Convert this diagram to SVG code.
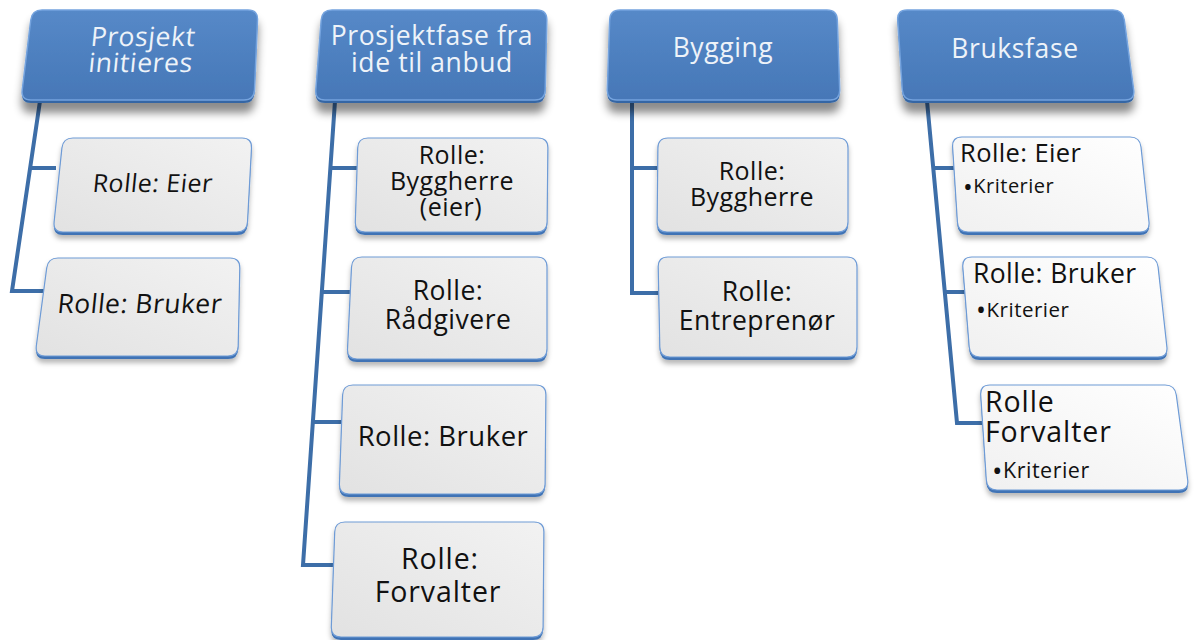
<svg xmlns="http://www.w3.org/2000/svg" width="1196" height="640" viewBox="0 0 1196 640">
  <defs>
    <linearGradient id="hdrFill" x1="0" y1="0" x2="0" y2="1">
      <stop offset="0" stop-color="#5689c8"/>
      <stop offset="1" stop-color="#4677b7"/>
    </linearGradient>
    <linearGradient id="boxFill" x1="0" y1="1" x2="1" y2="0">
      <stop offset="0" stop-color="#e2e2e2"/>
      <stop offset="1" stop-color="#f2f2f2"/>
    </linearGradient>
    <linearGradient id="boxFillLight" x1="0" y1="1" x2="1" y2="0">
      <stop offset="0" stop-color="#f0f0f0"/>
      <stop offset="1" stop-color="#ffffff"/>
    </linearGradient>
    <filter id="hdrShadow" x="-10%" y="-10%" width="120%" height="150%">
      <feDropShadow dx="0" dy="10" stdDeviation="4" flood-color="#000" flood-opacity="0.45"/>
    </filter>
    <filter id="boxShadow" x="-10%" y="-10%" width="120%" height="130%">
      <feDropShadow dx="0" dy="4" stdDeviation="2.5" flood-color="#000" flood-opacity="0.28"/>
    </filter>
  </defs>
  <style>
    .hdr-base { fill: #3566a4; }
    .hdr { fill: url(#hdrFill); stroke: #74a3de; stroke-width: 1.5; }
    .box-base { fill: #3f73b5; }
    .box { fill: url(#boxFill); stroke: #6e9bd6; stroke-width: 1.2; }
    .box-light { fill: url(#boxFillLight); stroke: #6e9bd6; stroke-width: 1.2; }
    .conn { fill: none; stroke: #3d6ea8; stroke-width: 4; stroke-linejoin: miter; }
    text { font-family: "Open Sans", "Noto Sans", sans-serif; }
    .ht { font-size: 26.5px; fill: #eef3f9; text-anchor: middle; letter-spacing: 0.6px; }
    .ct { font-size: 25px; fill: #111; text-anchor: middle; letter-spacing: 0.5px; }
    .lt { font-size: 25.5px; fill: #111; letter-spacing: 0.4px; }
    .bt { font-size: 20px; fill: #111; letter-spacing: 0.5px; }
    .bullet { font-size: 1.3em; }
    .s26 { font-size: 26.5px; }
    .s27 { font-size: 27.5px; }
    .s28 { font-size: 28.5px; letter-spacing: 0.9px; }
  </style>

  <!-- connectors -->
  <g id="connectors">
    <path class="conn" d="M40,101 L12,291 L44,291"/>
    <path class="conn" d="M30,168 L56,168"/>
    <path class="conn" d="M335,101 L303,565 L334,565"/>
    <path class="conn" d="M330,168 L358,168"/>
    <path class="conn" d="M322,292 L352,292"/>
    <path class="conn" d="M313,422 L343,422"/>
    <path class="conn" d="M632,101 L632,293 L660,293"/>
    <path class="conn" d="M632,168 L658,168"/>
    <path class="conn" d="M927,101 L957,423 L983,423"/>
    <path class="conn" d="M933,168 L955,168"/>
    <path class="conn" d="M945,292 L966,292"/>
  </g>

  <!-- column 1 -->
  <g id="hdr-prosjekt-initieres">
    <g filter="url(#hdrShadow)">
      <path class="hdr-base" transform="translate(0,3)" d="M42,10 L248,10 Q258,10 257.5,20 L254.5,90 Q254,100 244,100 L31,100 Q21,100 22.2,90 L30.8,20 Q32,10 42,10 Z"/>
      <path class="hdr" d="M42,10 L248,10 Q258,10 257.5,20 L254.5,90 Q254,100 244,100 L31,100 Q21,100 22.2,90 L30.8,20 Q32,10 42,10 Z"/>
    </g>
    <g transform="matrix(1,0,-0.1,1,6,0)">
      <text class="ht" x="141" y="46">Prosjekt</text>
      <text class="ht" x="141" y="72">initieres</text>
    </g>
  </g>
  <g id="c1-eier">
    <g filter="url(#boxShadow)">
      <path class="box-base" transform="translate(0,3)" d="M73,138 L242,138 Q252,138 251.5,148 L247.5,222 Q247,232 237,232 L63,232 Q53,232 54.1,222 L61.9,148 Q63,138 73,138 Z"/>
      <path class="box" d="M73,138 L242,138 Q252,138 251.5,148 L247.5,222 Q247,232 237,232 L63,232 Q53,232 54.1,222 L61.9,148 Q63,138 73,138 Z"/>
    </g>
    <g transform="matrix(1,0,-0.1,1,19.2,0)">
      <text class="ct" x="152" y="192">Rolle: Eier</text>
    </g>
  </g>
  <g id="c1-bruker">
    <g filter="url(#boxShadow)">
      <path class="box-base" transform="translate(0,3)" d="M58,258 L230,258 Q240,258 239.8,268 L238.2,346 Q238,356 228,356 L45,356 Q35,356 36.3,346 L46.7,268 Q48,258 58,258 Z"/>
      <path class="box" d="M58,258 L230,258 Q240,258 239.8,268 L238.2,346 Q238,356 228,356 L45,356 Q35,356 36.3,346 L46.7,268 Q48,258 58,258 Z"/>
    </g>
    <g transform="matrix(1,0,-0.1,1,31.3,0)">
      <text class="ct s26" x="139" y="313">Rolle: Bruker</text>
    </g>
  </g>

  <!-- column 2 -->
  <g id="hdr-prosjektfase">
    <g filter="url(#hdrShadow)">
      <path class="hdr-base" transform="translate(0,3)" d="M332,10 L537,10 Q547,10 546.8,20 L545.2,90 Q545,100 535,100 L325,100 Q315,100 315.8,90 L321.2,20 Q322,10 332,10 Z"/>
      <path class="hdr" d="M332,10 L537,10 Q547,10 546.8,20 L545.2,90 Q545,100 535,100 L325,100 Q315,100 315.8,90 L321.2,20 Q322,10 332,10 Z"/>
    </g>
    <text class="ht" x="432" y="45">Prosjektfase fra</text>
    <text class="ht" x="432" y="72">ide til anbud</text>
  </g>
  <g id="c2-byggherre">
    <g filter="url(#boxShadow)">
      <path class="box-base" transform="translate(0,3)" d="M368,138 L538,138 Q548,138 547.9,148 L547.1,222 Q547,232 537,232 L365,232 Q355,232 355.3,222 L357.7,148 Q358,138 368,138 Z"/>
      <path class="box" d="M368,138 L538,138 Q548,138 547.9,148 L547.1,222 Q547,232 537,232 L365,232 Q355,232 355.3,222 L357.7,148 Q358,138 368,138 Z"/>
    </g>
    <text class="ct" x="452" y="164">Rolle:</text>
    <text class="ct" x="452" y="190">Byggherre</text>
    <text class="ct" x="451" y="216">(eier)</text>
  </g>
  <g id="c2-radgivere">
    <g filter="url(#boxShadow)">
      <path class="box-base" transform="translate(0,3)" d="M362,257 L537,257 Q547,257 547,267 L547,349 Q547,359 537,359 L357,359 Q347,359 347.5,349 L351.5,267 Q352,257 362,257 Z"/>
      <path class="box" d="M362,257 L537,257 Q547,257 547,267 L547,349 Q547,359 537,359 L357,359 Q347,359 347.5,349 L351.5,267 Q352,257 362,257 Z"/>
    </g>
    <text class="ct s26" x="448" y="300">Rolle:</text>
    <text class="ct s26" x="448" y="329">Rådgivere</text>
  </g>
  <g id="c2-bruker">
    <g filter="url(#boxShadow)">
      <path class="box-base" transform="translate(0,3)" d="M353,385 L536,385 Q546,385 545.9,395 L545.1,484 Q545,494 535,494 L349,494 Q339,494 339.4,484 L342.6,395 Q343,385 353,385 Z"/>
      <path class="box" d="M353,385 L536,385 Q546,385 545.9,395 L545.1,484 Q545,494 535,494 L349,494 Q339,494 339.4,484 L342.6,395 Q343,385 353,385 Z"/>
    </g>
    <text class="ct s27" x="443" y="446">Rolle: Bruker</text>
  </g>
  <g id="c2-forvalter">
    <g filter="url(#boxShadow)">
      <path class="box-base" transform="translate(0,3)" d="M345,522 L534,522 Q544,522 543.9,532 L543.1,627 Q543,637 533,637 L341,637 Q331,637 331.3,627 L334.7,532 Q335,522 345,522 Z"/>
      <path class="box" d="M345,522 L534,522 Q544,522 543.9,532 L543.1,627 Q543,637 533,637 L341,637 Q331,637 331.3,627 L334.7,532 Q335,522 345,522 Z"/>
    </g>
    <text class="ct s28" x="440" y="569">Rolle:</text>
    <text class="ct s28" x="438" y="602">Forvalter</text>
  </g>

  <!-- column 3 -->
  <g id="hdr-bygging">
    <g filter="url(#hdrShadow)">
      <path class="hdr-base" transform="translate(0,3)" d="M620,10 L827,10 Q837,10 837.3,20 L839.7,90 Q840,100 830,100 L617,100 Q607,100 607.3,90 L609.7,20 Q610,10 620,10 Z"/>
      <path class="hdr" d="M620,10 L827,10 Q837,10 837.3,20 L839.7,90 Q840,100 830,100 L617,100 Q607,100 607.3,90 L609.7,20 Q610,10 620,10 Z"/>
    </g>
    <text class="ht" x="723" y="57">Bygging</text>
  </g>
  <g id="c3-byggherre">
    <g filter="url(#boxShadow)">
      <path class="box-base" transform="translate(0,3)" d="M668,138 L838,138 Q848,138 848,148 L848,222 Q848,232 838,232 L667,232 Q657,232 657.1,222 L657.9,148 Q658,138 668,138 Z"/>
      <path class="box" d="M668,138 L838,138 Q848,138 848,148 L848,222 Q848,232 838,232 L667,232 Q657,232 657.1,222 L657.9,148 Q658,138 668,138 Z"/>
    </g>
    <text class="ct" x="752" y="180">Rolle:</text>
    <text class="ct" x="752" y="206">Byggherre</text>
  </g>
  <g id="c3-entreprenor">
    <g filter="url(#boxShadow)">
      <path class="box-base" transform="translate(0,3)" d="M668,257 L847,257 Q857,257 857,267 L857,347 Q857,357 847,357 L670,357 Q660,357 659.8,347 L658.2,267 Q658,257 668,257 Z"/>
      <path class="box" d="M668,257 L847,257 Q857,257 857,267 L857,347 Q857,357 847,357 L670,357 Q660,357 659.8,347 L658.2,267 Q658,257 668,257 Z"/>
    </g>
    <text class="ct s26" x="757" y="301">Rolle:</text>
    <text class="ct s26" x="757" y="330">Entreprenør</text>
  </g>

  <!-- column 4 -->
  <g id="hdr-bruksfase">
    <g filter="url(#hdrShadow)">
      <path class="hdr-base" transform="translate(0,3)" d="M907,10 L1113,10 Q1123,10 1124.3,20 L1133.7,90 Q1135,100 1125,100 L913,100 Q903,100 902.3,90 L897.7,20 Q897,10 907,10 Z"/>
      <path class="hdr" d="M907,10 L1113,10 Q1123,10 1124.3,20 L1133.7,90 Q1135,100 1125,100 L913,100 Q903,100 902.3,90 L897.7,20 Q897,10 907,10 Z"/>
    </g>
    <text class="ht" x="1015" y="58">Bruksfase</text>
  </g>
  <g id="c4-eier">
    <g filter="url(#boxShadow)">
      <path class="box-base" transform="translate(0,3)" d="M962,137 L1130,137 Q1140,137 1141,147 L1149,222 Q1150,232 1140,232 L968,232 Q958,232 957.4,222 L952.6,147 Q952,137 962,137 Z"/>
      <path class="box-light" d="M962,137 L1130,137 Q1140,137 1141,147 L1149,222 Q1150,232 1140,232 L968,232 Q958,232 957.4,222 L952.6,147 Q952,137 962,137 Z"/>
    </g>
    <text class="lt" x="960" y="162">Rolle: Eier</text>
    <text class="bt" x="963" y="193"><tspan class="bullet" dy="2.5">•</tspan><tspan dy="-2.5">Kriterier</tspan></text>
  </g>
  <g id="c4-bruker">
    <g filter="url(#boxShadow)">
      <path class="box-base" transform="translate(0,3)" d="M972,257 L1147,257 Q1157,257 1158.1,267 L1166.9,347 Q1168,357 1158,357 L980,357 Q970,357 969.2,347 L962.8,267 Q962,257 972,257 Z"/>
      <path class="box-light" d="M972,257 L1147,257 Q1157,257 1158.1,267 L1166.9,347 Q1168,357 1158,357 L980,357 Q970,357 969.2,347 L962.8,267 Q962,257 972,257 Z"/>
    </g>
    <text class="lt s26" x="973" y="283">Rolle: Bruker</text>
    <text class="bt" x="976" y="317" style="font-size:20.5px"><tspan class="bullet" dy="2.5">•</tspan><tspan dy="-2.5">Kriterier</tspan></text>
  </g>
  <g id="c4-forvalter">
    <g filter="url(#boxShadow)">
      <path class="box-base" transform="translate(0,3)" d="M990,385 L1165,385 Q1175,385 1176.3,395 L1187.7,480 Q1189,490 1179,490 L997,490 Q987,490 986.3,480 L980.7,395 Q980,385 990,385 Z"/>
      <path class="box-light" d="M990,385 L1165,385 Q1175,385 1176.3,395 L1187.7,480 Q1189,490 1179,490 L997,490 Q987,490 986.3,480 L980.7,395 Q980,385 990,385 Z"/>
    </g>
    <text class="lt s28" x="985" y="412">Rolle</text>
    <text class="lt s28" x="985" y="442">Forvalter</text>
    <text class="bt" x="992" y="478" style="font-size:21.5px"><tspan class="bullet" dy="2.5">•</tspan><tspan dy="-2.5">Kriterier</tspan></text>
  </g>
</svg>
